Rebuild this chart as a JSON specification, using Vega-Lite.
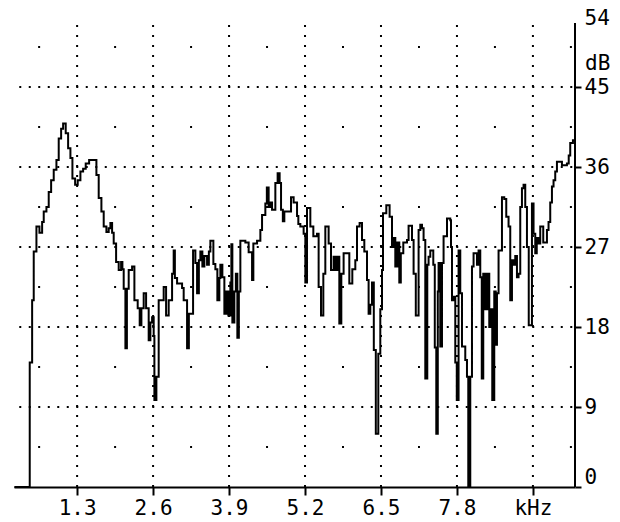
{
  "$schema": "https://vega.github.io/schema/vega-lite/v6.json",
  "width": 561,
  "height": 480,
  "autosize": {"type": "none"},
  "padding": {"left": 14, "top": 7, "right": 45, "bottom": 35},
  "background": "white",
  "config": {
    "view": {"stroke": null},
    "axisX": {
      "grid": false, "title": null,
      "domainColor": "black", "domainWidth": 2,
      "tickColor": "black", "tickWidth": 2, "tickSize": 8,
      "labelFont": "DejaVu Sans Mono", "labelFontSize": 21, "labelColor": "black",
      "labelPadding": 2, "labelFlush": false, "labelOverlap": false
    },
    "axisY": {
      "labelFlush": true, "domain": false, "grid": false, "title": null,
      "tickColor": "black", "tickWidth": 2, "tickSize": 6,
      "labelFont": "DejaVu Sans Mono", "labelFontSize": 21, "labelColor": "black",
      "labelPadding": 3, "labelOverlap": false
    }
  },
  "datasets": {
    "spectrum": [
      {"khz":0.2275,"db":0},{"khz":0.4892,"db":14},{"khz":0.5303,"db":21},{"khz":0.5577,"db":26.5},{"khz":0.6038,"db":29.3},{"khz":0.6552,"db":28.6},{"khz":0.7013,"db":29.8},{"khz":0.7287,"db":31},{"khz":0.7749,"db":31.5},{"khz":0.8142,"db":33.2},{"khz":0.8553,"db":34.5},{"khz":0.8998,"db":35.7},{"khz":0.946,"db":36.8},{"khz":0.9853,"db":39.2},{"khz":1.0264,"db":40.3},{"khz":1.0606,"db":40.9},{"khz":1.105,"db":39.8},{"khz":1.1461,"db":38.1},{"khz":1.1854,"db":37},{"khz":1.2197,"db":34.7},{"khz":1.2658,"db":34},{"khz":1.3103,"db":34.5},{"khz":1.3565,"db":35.5},{"khz":1.4027,"db":35.8},{"khz":1.4472,"db":36.4},{"khz":1.5053,"db":36.8},{"khz":1.6302,"db":35.1},{"khz":1.6695,"db":32.5},{"khz":1.7157,"db":31},{"khz":1.7551,"db":29.3},{"khz":1.8013,"db":28.7},{"khz":1.8406,"db":29.1},{"khz":1.8697,"db":29.7},{"khz":1.8988,"db":28.6},{"khz":1.9261,"db":27.4},{"khz":1.9672,"db":25.3},{"khz":2.0117,"db":24.4},{"khz":2.0527,"db":25.3},{"khz":2.075,"db":24.5},{"khz":2.0972,"db":22.3},{"khz":2.1263,"db":15.6},{"khz":2.1519,"db":22.3},{"khz":2.1827,"db":24.4},{"khz":2.2409,"db":24.8},{"khz":2.2802,"db":21},{"khz":2.3367,"db":20.1},{"khz":2.3709,"db":18.2},{"khz":2.4,"db":20.1},{"khz":2.4393,"db":21.8},{"khz":2.4804,"db":20.1},{"khz":2.5248,"db":16.5},{"khz":2.5539,"db":18.5},{"khz":2.583,"db":19.1},{"khz":2.6104,"db":17},{"khz":2.6224,"db":9.8},{"khz":2.6566,"db":12.4},{"khz":2.6959,"db":21},{"khz":2.737,"db":21},{"khz":2.7814,"db":22.5},{"khz":2.8225,"db":19.3},{"khz":2.867,"db":21},{"khz":2.9251,"db":24},{"khz":2.9525,"db":26.6},{"khz":2.973,"db":23.5},{"khz":3.0107,"db":22.9},{"khz":3.0962,"db":22.4},{"khz":3.1236,"db":21},{"khz":3.1817,"db":15.6},{"khz":3.2125,"db":19.5},{"khz":3.2382,"db":19.5},{"khz":3.2844,"db":26.6},{"khz":3.3237,"db":25.2},{"khz":3.3528,"db":21.8},{"khz":3.3836,"db":25.5},{"khz":3.4092,"db":26.5},{"khz":3.4434,"db":24.8},{"khz":3.4777,"db":26},{"khz":3.5238,"db":25},{"khz":3.5546,"db":26.5},{"khz":3.5803,"db":27.7},{"khz":3.6316,"db":25.1},{"khz":3.6658,"db":24.5},{"khz":3.7,"db":21},{"khz":3.7342,"db":23.5},{"khz":3.7513,"db":25},{"khz":3.7856,"db":23.6},{"khz":3.8198,"db":19.5},{"khz":3.854,"db":22},{"khz":3.8882,"db":19.3},{"khz":3.9224,"db":23},{"khz":3.9395,"db":27.3},{"khz":3.9566,"db":18.5},{"khz":3.9908,"db":22},{"khz":4.0165,"db":24},{"khz":4.0421,"db":16.8},{"khz":4.0678,"db":22},{"khz":4.0935,"db":27.7},{"khz":4.179,"db":27.5},{"khz":4.2354,"db":26.4},{"khz":4.2936,"db":23.3},{"khz":4.3159,"db":27.4},{"khz":4.3791,"db":27.7},{"khz":4.4358,"db":28.9},{"khz":4.4647,"db":30.6},{"khz":4.5211,"db":31.9},{"khz":4.5468,"db":33.7},{"khz":4.5776,"db":31.5},{"khz":4.6066,"db":32},{"khz":4.6357,"db":31.2},{"khz":4.6922,"db":34.2},{"khz":4.7315,"db":35.3},{"khz":4.7657,"db":34.2},{"khz":4.7897,"db":31.2},{"khz":4.8205,"db":29.9},{"khz":4.8461,"db":31},{"khz":4.9026,"db":31},{"khz":4.9607,"db":32.6},{"khz":5.0052,"db":32},{"khz":5.0634,"db":30.5},{"khz":5.0856,"db":29.6},{"khz":5.1198,"db":29.3},{"khz":5.1763,"db":28.5},{"khz":5.2054,"db":23},{"khz":5.2344,"db":31.4},{"khz":5.2909,"db":29.3},{"khz":5.3422,"db":28.2},{"khz":5.4055,"db":28.5},{"khz":5.4329,"db":22.5},{"khz":5.4739,"db":19.3},{"khz":5.5133,"db":24},{"khz":5.5475,"db":29.3},{"khz":5.604,"db":27.4},{"khz":5.645,"db":24.4},{"khz":5.6895,"db":25.9},{"khz":5.7185,"db":24.4},{"khz":5.7527,"db":25.9},{"khz":5.787,"db":18.4},{"khz":5.8212,"db":24},{"khz":5.8605,"db":26.3},{"khz":5.9238,"db":26.3},{"khz":5.958,"db":22.9},{"khz":6.0094,"db":24.5},{"khz":6.0607,"db":25.5},{"khz":6.0897,"db":29.3},{"khz":6.1342,"db":29.7},{"khz":6.1753,"db":27.8},{"khz":6.2147,"db":26.5},{"khz":6.2608,"db":23.3},{"khz":6.2882,"db":19.5},{"khz":6.3173,"db":20.5},{"khz":6.3464,"db":23},{"khz":6.3772,"db":15.4},{"khz":6.4114,"db":6},{"khz":6.4541,"db":15},{"khz":6.4883,"db":20},{"khz":6.5174,"db":24.4},{"khz":6.5345,"db":30.8},{"khz":6.591,"db":31.7},{"khz":6.6475,"db":30.4},{"khz":6.6884,"db":27},{"khz":6.7192,"db":28},{"khz":6.7449,"db":24.8},{"khz":6.7791,"db":27.5},{"khz":6.8133,"db":23},{"khz":6.839,"db":26.3},{"khz":6.8817,"db":27.5},{"khz":6.945,"db":27.8},{"khz":6.9724,"db":29.4},{"khz":7.0306,"db":27.8},{"khz":7.058,"db":24},{"khz":7.0956,"db":19.3},{"khz":7.1435,"db":28.9},{"khz":7.1725,"db":29.5},{"khz":7.2016,"db":29.1},{"khz":7.229,"db":27.8},{"khz":7.2581,"db":12.2},{"khz":7.2923,"db":25},{"khz":7.3146,"db":25.9},{"khz":7.3436,"db":26.6},{"khz":7.395,"db":25},{"khz":7.4206,"db":15.7},{"khz":7.4463,"db":6},{"khz":7.4719,"db":22},{"khz":7.4856,"db":25.2},{"khz":7.5147,"db":15.8},{"khz":7.5437,"db":25.2},{"khz":7.5711,"db":28.2},{"khz":7.6293,"db":30.2},{"khz":7.6857,"db":30},{"khz":7.6977,"db":27},{"khz":7.7148,"db":21},{"khz":7.7422,"db":21.4},{"khz":7.7713,"db":14},{"khz":7.7969,"db":9.8},{"khz":7.8277,"db":26.6},{"khz":7.8568,"db":21.8},{"khz":7.8859,"db":15.8},{"khz":7.9423,"db":14.3},{"khz":7.9714,"db":12.4},{"khz":7.9937,"db":0},{"khz":8.0279,"db":12.4},{"khz":8.0569,"db":24.8},{"khz":8.0843,"db":26.3},{"khz":8.1425,"db":25},{"khz":8.1699,"db":26.6},{"khz":8.1989,"db":23.6},{"khz":8.2246,"db":12.2},{"khz":8.2502,"db":24},{"khz":8.2844,"db":20},{"khz":8.3187,"db":24},{"khz":8.3529,"db":18},{"khz":8.3786,"db":20},{"khz":8.4042,"db":9.8},{"khz":8.4384,"db":22},{"khz":8.4641,"db":16},{"khz":8.4846,"db":21.8},{"khz":8.512,"db":26.6},{"khz":8.5701,"db":32.6},{"khz":8.6094,"db":32.4},{"khz":8.6437,"db":30.4},{"khz":8.683,"db":29.3},{"khz":8.7121,"db":21},{"khz":8.7412,"db":25.5},{"khz":8.7686,"db":25},{"khz":8.7977,"db":26},{"khz":8.8267,"db":23.6},{"khz":8.8541,"db":24},{"khz":8.8832,"db":31.5},{"khz":8.9122,"db":33.6},{"khz":8.9396,"db":34},{"khz":8.9687,"db":31.5},{"khz":8.9978,"db":27},{"khz":9.0285,"db":18.2},{"khz":9.0833,"db":31.9},{"khz":9.1107,"db":28.5},{"khz":9.1398,"db":26.3},{"khz":9.1654,"db":28},{"khz":9.1962,"db":27.4},{"khz":9.2253,"db":29.3},{"khz":9.2766,"db":27.5},{"khz":9.3399,"db":28.9},{"khz":9.3672,"db":29.8},{"khz":9.3963,"db":32},{"khz":9.4254,"db":33.8},{"khz":9.4528,"db":34.5},{"khz":9.4819,"db":35.5},{"khz":9.5109,"db":36.6},{"khz":9.5503,"db":36.6},{"khz":9.5965,"db":36.2},{"khz":9.6358,"db":36.2},{"khz":9.682,"db":36.4},{"khz":9.7127,"db":37.3},{"khz":9.7385,"db":38.7},{"khz":9.7846,"db":39},{"khz":9.82,"db":39}
    ],
    "hgrid": [{"db":9},{"db":18},{"db":27},{"db":36},{"db":45}],
    "vgrid": [{"khz":1.3},{"khz":2.6},{"khz":3.9},{"khz":5.2},{"khz":6.5},{"khz":7.8},{"khz":9.1}],
    "minor": [
      {"khz":0.65,"db":4.5},{"khz":1.95,"db":4.5},{"khz":3.25,"db":4.5},{"khz":4.55,"db":4.5},{"khz":5.85,"db":4.5},{"khz":7.15,"db":4.5},{"khz":8.45,"db":4.5},{"khz":9.75,"db":4.5},
      {"khz":0.65,"db":13.5},{"khz":1.95,"db":13.5},{"khz":3.25,"db":13.5},{"khz":4.55,"db":13.5},{"khz":5.85,"db":13.5},{"khz":7.15,"db":13.5},{"khz":8.45,"db":13.5},{"khz":9.75,"db":13.5},
      {"khz":0.65,"db":22.5},{"khz":1.95,"db":22.5},{"khz":3.25,"db":22.5},{"khz":4.55,"db":22.5},{"khz":5.85,"db":22.5},{"khz":7.15,"db":22.5},{"khz":8.45,"db":22.5},{"khz":9.75,"db":22.5},
      {"khz":0.65,"db":31.5},{"khz":1.95,"db":31.5},{"khz":3.25,"db":31.5},{"khz":4.55,"db":31.5},{"khz":5.85,"db":31.5},{"khz":7.15,"db":31.5},{"khz":8.45,"db":31.5},{"khz":9.75,"db":31.5},
      {"khz":0.65,"db":40.5},{"khz":1.95,"db":40.5},{"khz":3.25,"db":40.5},{"khz":4.55,"db":40.5},{"khz":5.85,"db":40.5},{"khz":7.15,"db":40.5},{"khz":8.45,"db":40.5},{"khz":9.75,"db":40.5},
      {"khz":0.65,"db":49.5},{"khz":1.95,"db":49.5},{"khz":3.25,"db":49.5},{"khz":4.55,"db":49.5},{"khz":5.85,"db":49.5},{"khz":7.15,"db":49.5},{"khz":8.45,"db":49.5},{"khz":9.75,"db":49.5}
    ],
    "unit": [{"t":"dB"}]
  },
  "layer": [
    {
      "data": {"name": "spectrum"},
      "mark": {"type": "line", "interpolate": "step-after", "color": "black", "strokeWidth": 2},
      "encoding": {
        "x": {
          "field": "khz", "type": "quantitative", "title": null,
          "scale": {"domain": [0.22, 9.82], "nice": false, "zero": false},
          "axis": {"orient": "bottom", "values": [1.3, 2.6, 3.9, 5.2, 6.5, 7.8, 9.1], "labelExpr": "datum.value > 9 ? 'kHz' : format(datum.value, '.1f')"}
        },
        "y": {
          "field": "db", "type": "quantitative", "title": null,
          "scale": {"domain": [0, 54], "nice": false, "zero": false},
          "axis": {"orient": "right", "values": [0, 9, 18, 27, 36, 45, 54], "tickOpacity": {"condition": {"test": "datum.value == 54", "value": 0}, "value": 1}}
        }
      }
    },
    {
      "data": {"name": "hgrid"},
      "mark": {"type": "rule", "color": "black", "strokeWidth": 2, "strokeDash": [2, 7.5]},
      "encoding": {
        "x": {"datum": 0.31, "type": "quantitative", "title": null, "axis": {"orient": "bottom", "values": [1.3, 2.6, 3.9, 5.2, 6.5, 7.8, 9.1], "labelExpr": "datum.value > 9 ? 'kHz' : format(datum.value, '.1f')"}},
        "x2": {"datum": 9.82},
        "y": {"field": "db", "type": "quantitative", "title": null, "axis": {"orient": "right", "values": [0, 9, 18, 27, 36, 45, 54], "tickOpacity": {"condition": {"test": "datum.value == 54", "value": 0}, "value": 1}}}
      }
    },
    {
      "data": {"name": "vgrid"},
      "mark": {"type": "rule", "color": "black", "strokeWidth": 2, "strokeDash": [2, 8]},
      "encoding": {
        "x": {"field": "khz", "type": "quantitative", "title": null, "axis": {"orient": "bottom", "values": [1.3, 2.6, 3.9, 5.2, 6.5, 7.8, 9.1], "labelExpr": "datum.value > 9 ? 'kHz' : format(datum.value, '.1f')"}},
        "y": {"datum": 0, "type": "quantitative", "title": null, "axis": {"orient": "right", "values": [0, 9, 18, 27, 36, 45, 54], "tickOpacity": {"condition": {"test": "datum.value == 54", "value": 0}, "value": 1}}},
        "y2": {"datum": 52.2}
      }
    },
    {
      "data": {"name": "minor"},
      "mark": {"type": "point", "shape": "square", "size": 4, "filled": true, "color": "black", "opacity": 1, "strokeWidth": 0},
      "encoding": {
        "x": {"field": "khz", "type": "quantitative", "title": null, "axis": {"orient": "bottom", "values": [1.3, 2.6, 3.9, 5.2, 6.5, 7.8, 9.1], "labelExpr": "datum.value > 9 ? 'kHz' : format(datum.value, '.1f')"}},
        "y": {"field": "db", "type": "quantitative", "title": null, "axis": {"orient": "right", "values": [0, 9, 18, 27, 36, 45, 54], "tickOpacity": {"condition": {"test": "datum.value == 54", "value": 0}, "value": 1}}}
      }
    },
    {
      "data": {"values": [{}]},
      "mark": {"type": "rule", "color": "black", "strokeWidth": 2},
      "encoding": {
        "x": {"datum": 9.82, "type": "quantitative", "title": null, "axis": {"orient": "bottom", "values": [1.3, 2.6, 3.9, 5.2, 6.5, 7.8, 9.1], "labelExpr": "datum.value > 9 ? 'kHz' : format(datum.value, '.1f')"}},
        "y": {"datum": 0, "type": "quantitative", "title": null, "axis": {"orient": "right", "values": [0, 9, 18, 27, 36, 45, 54], "tickOpacity": {"condition": {"test": "datum.value == 54", "value": 0}, "value": 1}}},
        "y2": {"datum": 52.2}
      }
    },
    {
      "data": {"name": "unit"},
      "mark": {"type": "text", "align": "left", "baseline": "middle", "dx": 10, "font": "DejaVu Sans Mono", "fontSize": 21, "color": "black"},
      "encoding": {
        "x": {"datum": 9.82, "type": "quantitative", "title": null, "axis": {"orient": "bottom", "values": [1.3, 2.6, 3.9, 5.2, 6.5, 7.8, 9.1], "labelExpr": "datum.value > 9 ? 'kHz' : format(datum.value, '.1f')"}},
        "y": {"datum": 47.6, "type": "quantitative", "title": null, "axis": {"orient": "right", "values": [0, 9, 18, 27, 36, 45, 54], "tickOpacity": {"condition": {"test": "datum.value == 54", "value": 0}, "value": 1}}},
        "text": {"field": "t"}
      }
    }
  ]
}
